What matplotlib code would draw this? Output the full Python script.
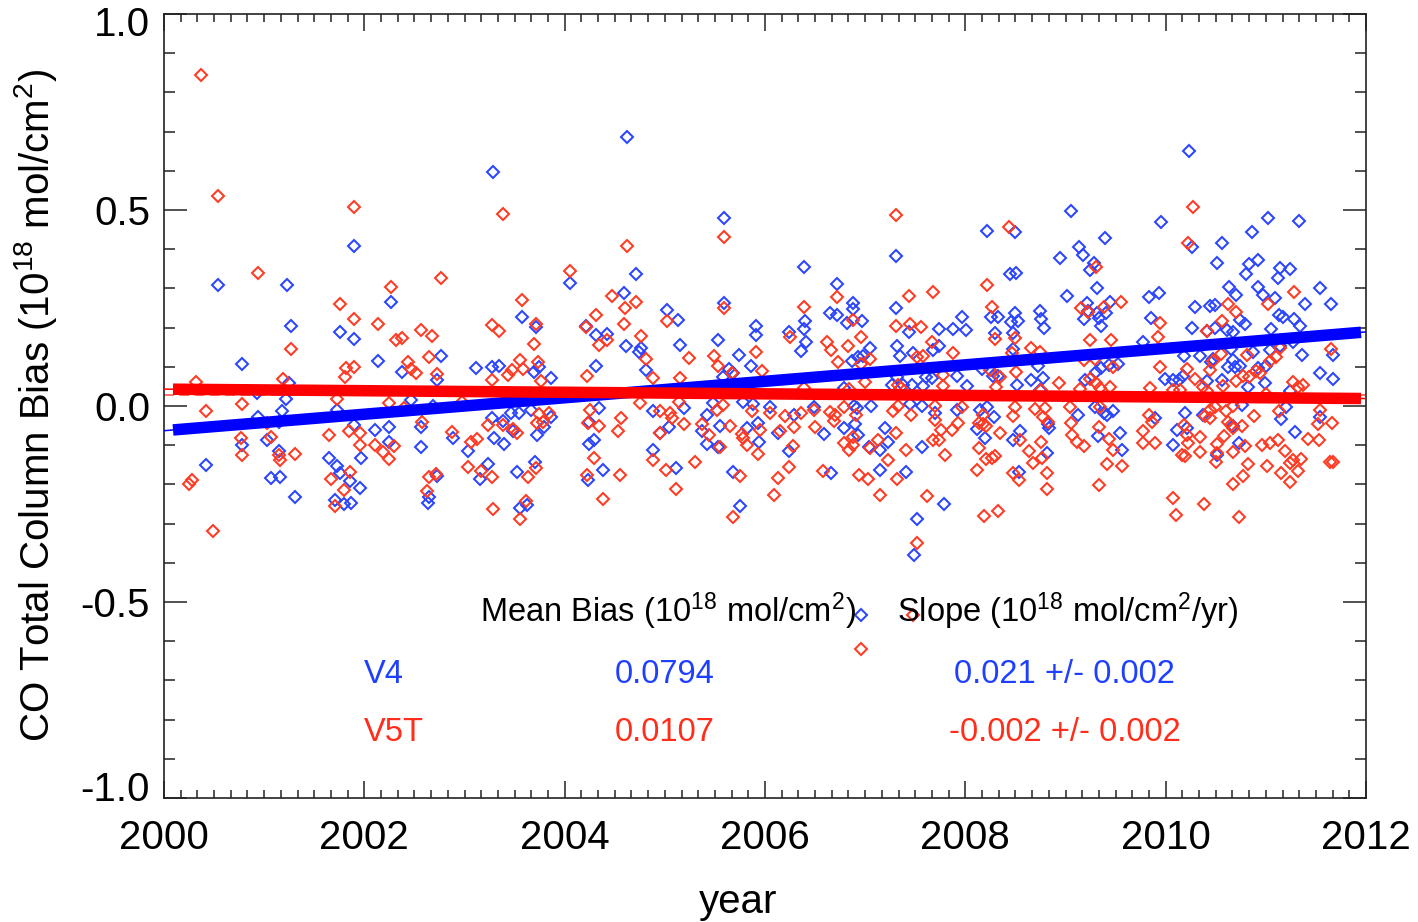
import matplotlib
matplotlib.use("Agg")
import numpy as np
import matplotlib.pyplot as plt
from matplotlib.ticker import MultipleLocator, FormatStrFormatter
from matplotlib.transforms import ScaledTranslation

plt.rcParams['font.family'] = ['Liberation Sans', 'DejaVu Sans']
plt.rcParams['mathtext.fontset'] = 'custom'
plt.rcParams['mathtext.rm'] = 'Liberation Sans'
plt.rcParams['mathtext.it'] = 'Liberation Sans:italic'
plt.rcParams['mathtext.bf'] = 'Liberation Sans:bold'
plt.rcParams['axes.unicode_minus'] = False

# ---------------------------------------------------------------- data
# V4 retrieval: CO total column bias (1e18 mol/cm^2) against decimal year
v4_year = [
    # 2000-2002
    2000.54, 2001.23, 2001.90, 2001.27, 2001.76, 2001.90, 2000.78, 2001.25, 2000.93, 2001.22,
    2001.18, 2000.94, 2001.15, 2001.03, 2000.78, 2001.15, 2000.42, 2001.07, 2001.16, 2001.31,
    2001.73, 2001.65, 2001.73, 2001.76, 2001.86, 2001.96, 2001.71, 2001.80, 2001.87, 2001.90,
    2001.97,
    # 2002-2004
    2003.28, 2002.27, 2003.57, 2003.71, 2002.77, 2002.135, 2002.375, 2003.11, 2003.27, 2003.345,
    2003.69, 2003.74, 2003.86, 2002.73, 2002.47, 2002.69, 2003.27, 2003.38, 2003.46, 2003.545,
    2003.66, 2003.86, 2002.105, 2002.245, 2002.57, 2002.245, 2002.57, 2002.885, 2003.03, 2003.29,
    2003.39, 2003.48, 2003.725, 2003.79, 2003.23, 2003.15, 2003.52, 2003.70, 2002.73, 2002.65,
    2002.64, 2003.55, 2003.625,
    # 2004-2006
    2004.62, 2005.59, 2004.71, 2004.05, 2004.595, 2005.59, 2005.02, 2005.13, 2004.215, 2005.91,
    2005.91, 2004.31, 2004.42, 2005.53, 2004.61, 2005.15, 2004.765, 2004.745, 2005.745, 2005.86,
    2004.31, 2004.815, 2005.64, 2005.685, 2005.585, 2004.34, 2004.88, 2005.19, 2005.485, 2005.785,
    2005.885, 2005.42, 2004.245, 2005.04, 2004.95, 2005.37, 2005.55, 2005.82, 2005.935, 2004.295,
    2004.24, 2005.425, 2005.535, 2005.94, 2004.88, 2005.11, 2004.38, 2004.235, 2005.68, 2005.75,
    # 2006-2008
    2007.305, 2006.39, 2006.72, 2006.88, 2007.305, 2006.65, 2006.72, 2006.875, 2006.40, 2006.39,
    2006.82, 2006.97, 2006.235, 2007.74, 2007.88, 2007.965, 2007.44, 2006.41, 2006.36, 2007.05,
    2007.315, 2007.35, 2007.48, 2007.68, 2007.74, 2006.87, 2006.93, 2006.98, 2007.605, 2007.315,
    2007.915, 2006.785, 2007.265, 2007.375, 2007.465, 2007.575, 2007.665, 2006.05, 2006.49, 2006.885,
    2006.915, 2007.055, 2007.45, 2007.565, 2007.915, 2006.285, 2007.70, 2006.90, 2006.785, 2006.125,
    2006.585, 2007.20, 2007.23, 2006.93, 2007.04, 2007.15, 2007.57, 2006.235, 2007.15, 2006.66,
    2007.41, 2007.79, 2007.515, 2007.49, 2006.96,
    # 2008-2010
    2009.05, 2008.22, 2008.50, 2009.95, 2009.39, 2009.13, 2009.17, 2008.95, 2009.28, 2009.24,
    2008.445, 2008.51, 2009.31, 2009.01, 2009.835, 2009.935, 2009.21, 2009.22, 2009.44, 2008.26,
    2008.325, 2008.50, 2008.46, 2008.53, 2008.75, 2008.76, 2008.785, 2009.18, 2009.31, 2009.33,
    2009.35, 2009.40, 2009.85, 2008.01, 2008.30, 2008.48, 2008.48, 2009.775, 2008.17, 2008.28,
    2008.33, 2008.73, 2008.66, 2008.78, 2008.52, 2009.19, 2009.30, 2009.35, 2009.43, 2009.525,
    2008.02, 2008.745, 2008.15, 2008.22, 2008.29, 2009.12, 2009.29, 2009.38, 2009.41, 2009.47,
    2009.89, 2008.12, 2008.195, 2008.545, 2008.48, 2008.83, 2008.84, 2009.325, 2009.54, 2009.565,
    2008.82, 2008.54,
    # 2010-2012
    2010.235, 2011.025, 2011.33, 2010.86, 2010.265, 2010.56, 2010.51, 2010.83, 2010.805, 2010.92,
    2011.14, 2011.24, 2011.125, 2010.63, 2010.70, 2010.92, 2010.97, 2011.54, 2011.09, 2010.29,
    2010.44, 2010.49, 2011.39, 2011.655, 2011.13, 2011.17, 2011.28, 2011.34, 2010.26, 2010.74,
    2010.79, 2010.49, 2010.41, 2010.61, 2010.675, 2011.055, 2011.27, 2010.18, 2010.34, 2010.47,
    2010.455, 2010.655, 2010.67, 2010.87, 2011.04, 2011.145, 2011.365, 2011.67, 2010.62, 2010.69,
    2010.74, 2010.92, 2011.005, 2011.54, 2011.67, 2009.99, 2010.075, 2010.135, 2010.175, 2010.41,
    2010.56, 2010.82, 2010.995, 2011.24, 2010.19, 2010.375, 2010.765, 2011.205, 2011.155, 2011.54,
    2010.11, 2010.215, 2010.675, 2011.29, 2010.075, 2010.73, 2010.51,
]
v4_bias = [
    # 2000-2002
    0.309, 0.309, 0.408, 0.204, 0.188, 0.170, 0.106, 0.058, 0.032, 0.017,
    -0.012, -0.027, -0.040, -0.088, -0.099, -0.116, -0.150, -0.184, -0.180, -0.231,
    -0.009, -0.132, -0.153, -0.172, -0.191, -0.210, -0.240, -0.250, -0.248, -0.048,
    -0.132,
    # 2002-2004
    0.596, 0.266, 0.228, 0.201, 0.128, 0.115, 0.088, 0.098, 0.099, 0.102,
    0.086, 0.100, 0.072, 0.066, 0.015, 0.001, -0.030, -0.038, -0.019, -0.017,
    -0.010, -0.027, -0.060, -0.054, -0.054, -0.091, -0.105, -0.082, -0.116, -0.081,
    -0.098, -0.065, -0.074, -0.053, -0.148, -0.186, -0.169, -0.142, -0.179, -0.231,
    -0.247, -0.259, -0.253,
    # 2004-2006
    0.687, 0.480, 0.338, 0.313, 0.289, 0.264, 0.245, 0.219, 0.205, 0.205,
    0.181, 0.181, 0.184, 0.168, 0.153, 0.155, 0.149, 0.139, 0.130, 0.102,
    0.102, 0.092, 0.094, 0.083, 0.073, -0.006, -0.012, -0.006, 0.007, 0.011,
    0.005, -0.023, -0.040, -0.053, -0.070, -0.065, -0.051, -0.057, -0.043, -0.087,
    -0.097, -0.097, -0.104, -0.091, -0.112, -0.159, -0.162, -0.189, -0.168, -0.254,
    # 2006-2008
    0.383, 0.354, 0.311, 0.264, 0.251, 0.238, 0.232, 0.247, 0.217, 0.196,
    0.211, 0.217, 0.188, 0.196, 0.196, 0.228, 0.188, 0.162, 0.141, 0.149,
    0.154, 0.128, 0.134, 0.143, 0.154, 0.116, 0.124, 0.128, 0.075, 0.073,
    0.077, 0.047, 0.054, 0.054, 0.054, 0.052, 0.071, -0.002, -0.003, 0.001,
    -0.004, 0.001, 0.005, 0.001, -0.010, -0.023, -0.019, -0.047, -0.057, -0.070,
    -0.072, -0.057, -0.091, -0.074, -0.105, -0.112, -0.105, -0.116, -0.163, -0.172,
    -0.169, -0.251, -0.288, -0.380, -0.533,
    # 2008-2010
    0.497, 0.447, 0.443, 0.470, 0.428, 0.406, 0.385, 0.378, 0.366, 0.347,
    0.337, 0.340, 0.300, 0.281, 0.277, 0.287, 0.264, 0.243, 0.266, 0.226,
    0.226, 0.236, 0.215, 0.217, 0.243, 0.221, 0.198, 0.222, 0.238, 0.224,
    0.205, 0.238, 0.224, 0.194, 0.185, 0.185, 0.145, 0.164, 0.095, 0.077,
    0.077, 0.103, 0.066, 0.071, 0.054, 0.066, 0.088, 0.096, 0.105, 0.107,
    0.052, 0.041, -0.010, -0.002, -0.027, -0.023, -0.002, -0.019, -0.023, -0.013,
    -0.031, -0.059, -0.082, -0.065, -0.088, -0.046, -0.057, -0.077, -0.070, -0.112,
    -0.119, -0.168,
    # 2010-2012
    0.650, 0.479, 0.472, 0.445, 0.406, 0.417, 0.364, 0.362, 0.337, 0.372,
    0.351, 0.349, 0.326, 0.304, 0.283, 0.303, 0.283, 0.300, 0.275, 0.252,
    0.255, 0.258, 0.259, 0.260, 0.232, 0.228, 0.222, 0.205, 0.198, 0.219,
    0.208, 0.200, 0.191, 0.194, 0.190, 0.196, 0.164, 0.128, 0.128, 0.119,
    0.111, 0.145, 0.117, 0.139, 0.143, 0.153, 0.129, 0.129, 0.100, 0.100,
    0.102, 0.096, 0.102, 0.083, 0.069, 0.068, 0.066, 0.066, 0.077, 0.064,
    0.066, 0.049, 0.058, 0.037, -0.017, -0.023, 0.003, -0.003, -0.034, -0.027,
    -0.061, -0.057, -0.051, -0.067, -0.099, -0.095, -0.125,
]

# V5T retrieval
v5t_year = [
    # 2000-2002
    2000.37, 2000.54, 2001.90, 2000.94, 2001.76, 2001.90, 2001.27, 2001.19, 2001.82, 2001.90,
    2001.81, 2000.32, 2000.42, 2000.78, 2001.73, 2000.77, 2000.78, 2001.03, 2001.07, 2001.15,
    2001.16, 2001.31, 2001.65, 2001.85, 2001.96, 2001.96, 2001.86, 2001.80, 2001.67, 2001.71,
    2000.28, 2000.25, 2000.49,
    # 2002-2004
    2003.385, 2002.77, 2002.27, 2003.57, 2002.135, 2002.57, 2002.32, 2002.375, 2002.68, 2003.27,
    2003.34, 2003.71, 2003.69, 2002.65, 2002.44, 2002.47, 2002.52, 2002.73, 2003.55, 2003.47,
    2003.585, 2003.43, 2003.73, 2003.76, 2003.27, 2002.245, 2002.40, 2002.98, 2002.58, 2002.875,
    2003.23, 2003.38, 2003.48, 2003.525, 2003.74, 2003.72, 2003.785, 2003.84, 2002.105, 2002.19,
    2002.25, 2002.30, 2003.06, 2003.12, 2003.03, 2003.16, 2003.275, 2002.65, 2002.72, 2002.63,
    2003.63, 2003.71, 2003.28, 2003.615, 2003.55,
    # 2004-2006
    2004.62, 2005.59, 2004.05, 2004.475, 2004.605, 2004.71, 2004.31, 2004.595, 2004.215, 2005.02,
    2005.59, 2004.34, 2004.42, 2004.765, 2004.815, 2005.24, 2005.49, 2005.53, 2005.91, 2004.22,
    2004.88, 2005.15, 2005.67, 2005.97, 2004.75, 2005.14, 2004.955, 2005.05, 2005.07, 2005.585,
    2005.52, 2005.875, 2004.25, 2004.23, 2004.34, 2004.56, 2004.53, 2004.95, 2005.19, 2005.37,
    2005.44, 2005.65, 2005.55, 2005.775, 2005.82, 2005.785, 2005.95, 2004.295, 2004.88, 2005.01,
    2005.30, 2004.22, 2004.555, 2005.75, 2005.935, 2004.38, 2005.11, 2005.68,
    # 2006-2008
    2007.305, 2007.675, 2007.44, 2006.72, 2006.39, 2006.88, 2007.305, 2007.45, 2007.56, 2006.245,
    2006.96, 2006.615, 2006.66, 2006.83, 2007.665, 2007.88, 2006.725, 2006.955, 2007.05, 2007.515,
    2007.58, 2007.0, 2007.33, 2007.36, 2007.78, 2006.39, 2006.84, 2007.78, 2006.05, 2006.36,
    2006.49, 2006.65, 2006.70, 2006.785, 2007.28, 2007.33, 2007.46, 2007.70, 2007.965, 2006.69,
    2006.91, 2006.20, 2006.29, 2006.495, 2007.70, 2007.755, 2007.865, 2007.93, 2006.145, 2006.28,
    2006.79, 2006.88, 2006.84, 2006.88, 2007.13, 2007.05, 2007.31, 2007.68, 2007.74, 2007.41,
    2007.80, 2006.235, 2006.577, 2006.94, 2007.03, 2007.23, 2007.315, 2006.125, 2006.085, 2007.15,
    2007.615, 2007.515, 2006.96, 2007.48,
    # 2008-2010
    2008.44, 2009.30, 2008.22, 2008.27, 2009.55, 2009.15, 2009.22, 2009.38, 2008.30, 2008.495,
    2009.24, 2009.45, 2008.66, 2008.75, 2008.47, 2009.925, 2009.94, 2009.18, 2009.29, 2009.47,
    2008.245, 2008.345, 2008.51, 2009.24, 2009.30, 2009.34, 2009.44, 2008.94, 2008.305, 2009.94,
    2009.84, 2008.76, 2009.14, 2008.695, 2008.795, 2009.04, 2008.495, 2009.345, 2008.18, 2008.136,
    2008.18, 2008.21, 2008.48, 2008.78, 2008.83, 2009.05, 2009.335, 2009.835, 2009.86, 2008.345,
    2008.545, 2008.76, 2009.06, 2009.11, 2009.18, 2009.43, 2009.47, 2009.775, 2009.775, 2009.89,
    2008.14, 2008.205, 2008.27, 2008.295, 2008.64, 2008.68, 2008.77, 2009.41, 2009.56, 2008.12,
    2008.48, 2008.54, 2008.82, 2008.82, 2009.33, 2008.19, 2008.33,
    # 2010-2012
    2010.27, 2010.225, 2011.28, 2011.025, 2010.62, 2010.705, 2010.567, 2010.41, 2011.65, 2011.14,
    2011.105, 2011.04, 2010.55, 2010.47, 2010.81, 2010.21, 2010.44, 2010.77, 2010.83, 2010.905,
    2010.29, 2010.70, 2010.94, 2011.27, 2011.37, 2011.32, 2010.57, 2010.07, 2010.14, 2010.375,
    2010.41, 2011.0, 2010.44, 2010.49, 2010.60, 2010.67, 2011.13, 2011.54, 2010.88, 2010.39,
    2010.44, 2010.62, 2010.655, 2010.675, 2010.765, 2011.52, 2011.66, 2010.185, 2010.21, 2010.34,
    2010.225, 2010.51, 2010.58, 2010.79, 2010.965, 2011.045, 2011.12, 2011.42, 2011.53, 2010.16,
    2010.19, 2010.34, 2010.51, 2010.50, 2010.675, 2010.82, 2011.01, 2011.195, 2011.24, 2011.27,
    2011.32, 2011.355, 2011.15, 2010.77, 2011.64, 2011.67, 2011.245, 2010.675, 2010.075, 2010.38,
    2010.10, 2010.73,
]
v5t_bias = [
    # 2000-2002
    0.844, 0.536, 0.507, 0.340, 0.259, 0.223, 0.145, 0.070, 0.096, 0.100,
    0.075, 0.060, -0.014, 0.004, 0.019, -0.082, -0.125, -0.043, -0.078, -0.125,
    -0.138, -0.123, -0.074, -0.065, -0.070, -0.099, -0.168, -0.214, -0.185, -0.255,
    -0.190, -0.199, -0.319,
    # 2002-2004
    0.491, 0.326, 0.303, 0.270, 0.210, 0.194, 0.168, 0.173, 0.179, 0.207,
    0.192, 0.208, 0.158, 0.126, 0.111, 0.094, 0.083, 0.082, 0.117, 0.092,
    0.094, 0.079, 0.111, 0.065, 0.066, 0.007, -0.006, 0.011, -0.040, -0.067,
    -0.048, -0.048, -0.059, -0.070, -0.021, -0.043, -0.040, -0.019, -0.099, -0.118,
    -0.134, -0.102, -0.091, -0.084, -0.155, -0.167, -0.180, -0.182, -0.173, -0.216,
    -0.182, -0.157, -0.264, -0.242, -0.288,
    # 2004-2006
    0.408, 0.432, 0.344, 0.281, 0.249, 0.266, 0.232, 0.210, 0.202, 0.216,
    0.249, 0.156, 0.168, 0.179, 0.119, 0.123, 0.128, 0.102, 0.137, 0.077,
    0.072, 0.072, 0.083, 0.090, 0.007, 0.009, -0.012, -0.019, -0.031, 0.003,
    -0.010, -0.012, -0.010, -0.043, -0.051, -0.030, -0.064, -0.068, -0.047, -0.047,
    -0.074, -0.051, -0.105, -0.071, -0.099, -0.081, -0.060, -0.132, -0.139, -0.163,
    -0.142, -0.176, -0.176, -0.179, -0.123, -0.237, -0.212, -0.284,
    # 2006-2008
    0.487, 0.291, 0.281, 0.278, 0.252, 0.219, 0.205, 0.209, 0.201, 0.177,
    0.175, 0.162, 0.143, 0.153, 0.162, 0.136, 0.111, 0.107, 0.120, 0.124,
    0.128, 0.060, 0.054, 0.047, 0.051, 0.045, 0.043, 0.079, -0.019, -0.017,
    -0.010, -0.016, -0.023, -0.003, -0.012, 0.001, -0.022, 0.000, -0.002, -0.038,
    -0.023, -0.026, -0.054, -0.054, -0.036, -0.060, -0.060, -0.044, -0.065, -0.102,
    -0.094, -0.078, -0.112, -0.099, -0.088, -0.108, -0.070, -0.088, -0.087, -0.112,
    -0.125, -0.155, -0.166, -0.176, -0.187, -0.139, -0.187, -0.184, -0.227, -0.227,
    -0.229, -0.350, -0.620, -0.533,
    # 2008-2010
    0.457, 0.355, 0.309, 0.252, 0.266, 0.249, 0.241, 0.252, 0.171, 0.173,
    0.168, 0.168, 0.149, 0.139, 0.134, 0.177, 0.211, 0.117, 0.119, 0.100,
    0.092, 0.075, 0.088, 0.068, 0.058, 0.047, 0.049, 0.058, 0.049, 0.100,
    0.045, 0.041, 0.043, -0.007, -0.006, -0.003, -0.002, -0.002, -0.023, -0.043,
    -0.046, -0.051, -0.026, -0.029, -0.040, -0.044, -0.054, -0.023, -0.040, -0.070,
    -0.088, -0.091, -0.074, -0.091, -0.101, -0.085, -0.112, -0.065, -0.094, -0.095,
    -0.108, -0.136, -0.132, -0.128, -0.116, -0.146, -0.132, -0.149, -0.153, -0.163,
    -0.170, -0.189, -0.172, -0.213, -0.202, -0.280, -0.267,
    # 2010-2012
    0.507, 0.415, 0.290, 0.260, 0.260, 0.241, 0.218, 0.191, 0.145, 0.149,
    0.126, 0.116, 0.133, 0.116, 0.130, 0.094, 0.092, 0.077, 0.075, 0.090,
    0.068, 0.065, 0.083, 0.062, 0.054, 0.049, 0.052, 0.041, 0.041, 0.049,
    0.037, 0.031, -0.010, -0.002, -0.012, 0.000, -0.012, -0.010, -0.025, -0.026,
    -0.031, -0.040, -0.048, -0.057, -0.051, -0.046, -0.043, -0.048, -0.074, -0.080,
    -0.095, -0.097, -0.077, -0.102, -0.099, -0.095, -0.088, -0.085, -0.088, -0.125,
    -0.128, -0.118, -0.121, -0.142, -0.118, -0.149, -0.153, -0.116, -0.146, -0.138,
    -0.165, -0.136, -0.172, -0.179, -0.142, -0.142, -0.195, -0.200, -0.234, -0.250,
    -0.278, -0.284,
]

# Summary statistics for each retrieval version
series_names = ['V4', 'V5T']
mean_bias = [0.0794, 0.0107]
trend_slope = [0.021, -0.002]          # 1e18 mol/cm^2 per year
trend_slope_err = [0.002, 0.002]
trend_at_2000 = [-0.063, 0.043]        # fitted bias at 2000.0
reference_level = 0.027                # dashed reference line

# ---------------------------------------------------------------- styling
point_colors = ['#2b45ff', '#ff3a22']
line_colors = ['#0000ff', '#ff0000']
text_colors = ['#1f3fff', '#ff2d1a']

fig = plt.figure(figsize=(14.18, 9.22), dpi=100)
ax = fig.add_axes([164 / 1418, 1 - 798 / 922, 1202 / 1418, 784 / 922])

# scatter of the individual biases (open diamonds)
for yr, val, col in [(v4_year, v4_bias, point_colors[0]),
                     (v5t_year, v5t_bias, point_colors[1])]:
    ax.plot(yr, val, ls='none', marker='D', ms=6.6, mfc='none',
            mec=col, mew=1.45, zorder=2)

# reference level
ax.plot([2000, 2012], [reference_level, reference_level], color='#ff4a3a',
        lw=1.1, ls=(0, (6.5, 3.5)), zorder=1.5)

# linear trends: thin over the full axis, thick over the data span
for i in range(len(series_names)):
    xs_full = np.array([2000.0, 2012.0])
    xs_span = np.array([2000.09, 2011.95])
    ax.plot(xs_full, trend_at_2000[i] + trend_slope[i] * (xs_full - 2000.0),
            color=line_colors[i], lw=1.1, zorder=3 + i)
    ax.plot(xs_span, trend_at_2000[i] + trend_slope[i] * (xs_span - 2000.0),
            color=line_colors[i], lw=8.3, solid_capstyle='butt', zorder=3 + i)

ax.set_xlim(2000, 2012)
ax.set_ylim(-1.0, 1.0)
ax.xaxis.set_major_locator(MultipleLocator(2))
ax.xaxis.set_minor_locator(MultipleLocator(1 / 6))
ax.yaxis.set_major_locator(MultipleLocator(0.5))
ax.yaxis.set_minor_locator(MultipleLocator(0.1))
ax.xaxis.set_major_formatter(FormatStrFormatter('%d'))
ax.yaxis.set_major_formatter(FormatStrFormatter('%.1f'))

tick_col = '#222222'
ax.tick_params(axis='both', which='both', direction='in', top=True, right=True,
               color=tick_col, width=1.1, labelsize=29, labelcolor='black')
ax.tick_params(axis='y', which='major', length=16.5, pad=10)
ax.tick_params(axis='y', which='minor', length=8)
ax.tick_params(axis='x', which='major', length=12, pad=15)
ax.tick_params(axis='x', which='minor', length=6)
for sp in ax.spines.values():
    sp.set_linewidth(1.2)
    sp.set_color(tick_col)

fig.text(36 / 1418, 1 - 405 / 922,
         r'CO Total Column Bias (10$^{18}$ mol/cm$^{2}$)',
         rotation=90, ha='center', va='center', fontsize=29)
fig.text(738 / 1418, 1 - 902 / 922, 'year', ha='center', va='center', fontsize=29)

# statistics table inside the axes
fs = 23.5
ax.text(2003.15, -0.551, r'Mean Bias (10$^{18}$ mol/cm$^{2}$)',
        ha='left', va='baseline', fontsize=fs, color='black', zorder=6)
ax.text(2007.32, -0.551, r'Slope (10$^{18}$ mol/cm$^{2}$/yr)',
        ha='left', va='baseline', fontsize=fs, color='black', zorder=6)
row_base = [-0.706, -0.854]
for i, name in enumerate(series_names):
    ax.text(2002.0, row_base[i], name, ha='left', va='baseline',
            fontsize=fs, color=text_colors[i], zorder=6)
    ax.text(2004.5, row_base[i], f'{mean_bias[i]:.4f}', ha='left', va='baseline',
            fontsize=fs, color=text_colors[i], zorder=6)
    slope_x = 2007.89 if trend_slope[i] >= 0 else 2007.84
    ax.text(slope_x, row_base[i],
            f'{trend_slope[i]:.3f} +/- {trend_slope_err[i]:.3f}',
            ha='left', va='baseline', fontsize=fs, color=text_colors[i], zorder=6)

# pull the end labels of the value axis slightly inside the frame
fig.canvas.draw()
for tick in ax.yaxis.get_major_ticks():
    txt = tick.label1.get_text()
    if txt == '1.0':
        tick.label1.set_transform(tick.label1.get_transform()
                                  + ScaledTranslation(0, -7 / 100, fig.dpi_scale_trans))
    elif txt == '-1.0':
        tick.label1.set_transform(tick.label1.get_transform()
                                  + ScaledTranslation(0, 12 / 100, fig.dpi_scale_trans))

fig.savefig('out.png', dpi=100, facecolor='white')
